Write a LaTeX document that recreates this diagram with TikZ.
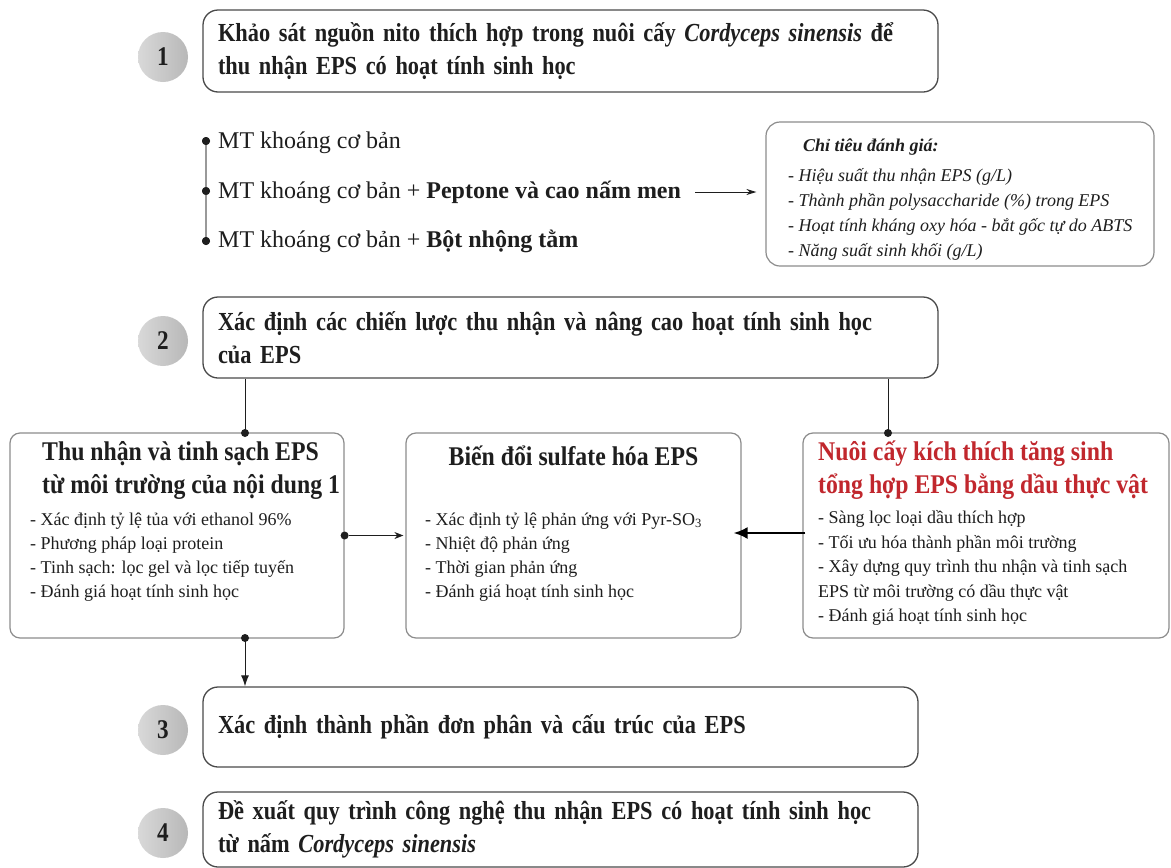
\documentclass[tikz,border=0pt]{standalone}
\usepackage{fontspec}
\usetikzlibrary{arrows.meta}
\setmainfont{Liberation Serif}
\newfontfamily\hepfont[FakeStretch=0.86,WordSpace=0.85]{Liberation Serif}
\newfontfamily\hepvua[FakeStretch=0.88]{Liberation Serif}
\definecolor{vien}{HTML}{4A4A4A}
\definecolor{vienxam}{HTML}{8C8C8C}
\definecolor{chuden}{HTML}{1E1E1E}
\definecolor{chudo}{HTML}{C1272D}

\begin{document}
\begin{tikzpicture}[x=1pt,y=-1pt]
\tikzstyle{sobuoc}=[circle,minimum size=50pt,inner sep=0pt,left color=black!15,right color=black!28,font=\hepfont\bfseries\fontsize{27}{27}\selectfont,text=chuden]
\tikzstyle{hopbuoc}=[rectangle,rounded corners=15pt,draw=vien,line width=1.3pt,inner xsep=15pt,inner ysep=0pt,align=left,font=\hepfont\bfseries\fontsize{26}{33}\selectfont,text=chuden]
\tikzstyle{hopcon}=[rectangle,rounded corners=10pt,draw=vienxam,line width=1.2pt,inner sep=0pt]
\tikzstyle{tieude}=[inner sep=0pt,align=left,font=\hepvua\bfseries\fontsize{27}{33}\selectfont,text=chuden]
\tikzstyle{noidung}=[inner sep=0pt,align=left,font=\fontsize{18}{24}\selectfont,text=chuden]
\tikzstyle{dong}=[inner sep=0pt,anchor=west,font=\fontsize{24}{24}\selectfont,text=chuden]
\tikzstyle{cham}=[circle,fill=chuden,inner sep=0pt,minimum size=8pt]
\tikzstyle{noi}=[draw=chuden,line width=1pt]
\useasboundingbox (0,0) rectangle (1171,868);
\fill[white] (0,0) rectangle (1171,868);

\node[sobuoc] (so1) at (163,57) {1};
\node[hopbuoc,text width=705pt,minimum height=82pt] (buoc1) at (570.5,51) {Khảo sát nguồn nito thích hợp trong nuôi cấy \textit{Cordyceps sinensis} để\\thu nhận EPS có hoạt tính sinh học};

\node[cham] (d1) at (206,141) {};
\node[cham] (d2) at (206,191) {};
\node[cham] (d3) at (206,241) {};
\draw[draw=black!40,line width=1.2pt] (d1) -- (d3);
\node[cham] at (d1) {};
\node[cham] at (d2) {};
\node[cham] at (d3) {};
\node[dong] (mt1) at (218,143) {MT khoáng cơ bản};
\node[dong] (mt2) at (218,192) {MT khoáng cơ bản + \textbf{Peptone và cao nấm men}};
\node[dong] (mt3) at (218,241) {MT khoáng cơ bản + \textbf{Bột nhộng tằm}};

\node[hopcon,rounded corners=14pt,minimum width=388pt,minimum height=144pt] (chitieu) at (960,194) {};
\node[inner sep=0pt,anchor=west,align=left,font=\itshape\fontsize{18}{25}\selectfont,text=chuden] (chitieu-nd) at (788,199.5) {\hspace*{15pt}\textbf{Chỉ tiêu đánh giá:}\\[5pt]- Hiệu suất thu nhận EPS (g/L)\\- Thành phần polysaccharide (\%) trong EPS\\- Hoạt tính kháng oxy hóa - bắt gốc tự do ABTS\\- Năng suất sinh khối (g/L)};
\draw[noi,-{Stealth[length=10pt,width=6pt]},shorten <=14pt,shorten >=9pt] (mt2.east) -- (chitieu.west |- mt2.east);

\node[sobuoc] (so2) at (163,341) {2};
\node[hopbuoc,text width=705pt,minimum height=81pt] (buoc2) at (570.5,337.5) {Xác định các chiến lược thu nhận và nâng cao hoạt tính sinh học\\của EPS};

\node[hopcon,minimum width=334pt,minimum height=205pt] (thunhan) at (177,535.5) {};
\node[tieude,anchor=west] (thunhan-td) at (42,470) {Thu nhận và tinh sạch EPS\\từ môi trường của nội dung 1};
\node[noidung,anchor=west] (thunhan-nd) at (30,557) {- Xác định tỷ lệ tủa với ethanol 96\%\\- Phương pháp loại protein\\- Tinh sạch: lọc gel và lọc tiếp tuyến\\- Đánh giá hoạt tính sinh học};

\node[hopcon,minimum width=335pt,minimum height=205pt] (bien) at (573.5,535.5) {};
\node[tieude] (bien-td) at (573.5,456) {Biến đổi sulfate hóa EPS};
\node[noidung,anchor=west] (bien-nd) at (425,557) {- Xác định tỷ lệ phản ứng với Pyr-SO\textsubscript{3}\\- Nhiệt độ phản ứng\\- Thời gian phản ứng\\- Đánh giá hoạt tính sinh học};

\node[hopcon,minimum width=366pt,minimum height=205pt] (nuoi) at (986,535.5) {};
\node[tieude,anchor=west,text=chudo] (nuoi-td) at (818,470) {Nuôi cấy kích thích tăng sinh\\tổng hợp EPS bằng dầu thực vật};
\node[noidung,anchor=west,font=\fontsize{18}{24.5}\selectfont] (nuoi-nd) at (818,568) {- Sàng lọc loại dầu thích hợp\\- Tối ưu hóa thành phần môi trường\\- Xây dựng quy trình thu nhận và tinh sạch\\EPS từ môi trường có dầu thực vật\\- Đánh giá hoạt tính sinh học};

\coordinate (r1) at (245,433);
\coordinate (r2) at (888,433);
\coordinate (r3) at (245,638);
\draw[noi] (r1 |- buoc2.south) -- (r1);
\draw[noi] (r2 |- buoc2.south) -- (r2);
\node[cham] at (r1) {};
\node[cham] at (r2) {};
\node[cham] (cx) at (thunhan.east) {};
\draw[noi,-{Stealth[length=9pt,width=7pt]},shorten >=2pt] (cx) -- (bien.west);
\draw[draw=black,line width=2.2pt,-{Latex[length=14pt,width=12pt]},shorten <=-3pt,shorten >=-8pt] ([yshift=2.5pt]nuoi.west) -- ([yshift=2.5pt]bien.east);

\node[sobuoc] (so3) at (163,730) {3};
\node[hopbuoc,text width=685pt,minimum height=80pt] (buoc3) at (560.5,727) {Xác định thành phần đơn phân và cấu trúc của EPS};
\node[cham] at (r3) {};
\draw[noi,-{Latex[length=11pt,width=8pt]}] (r3) -- (r3 |- buoc3.north);

\node[sobuoc] (so4) at (163,833) {4};
\node[hopbuoc,text width=685pt,minimum height=75pt] (buoc4) at (560.5,829.5) {Đề xuất quy trình công nghệ thu nhận EPS có hoạt tính sinh học\\từ nấm \textit{Cordyceps sinensis}};
\end{tikzpicture}
\end{document}
